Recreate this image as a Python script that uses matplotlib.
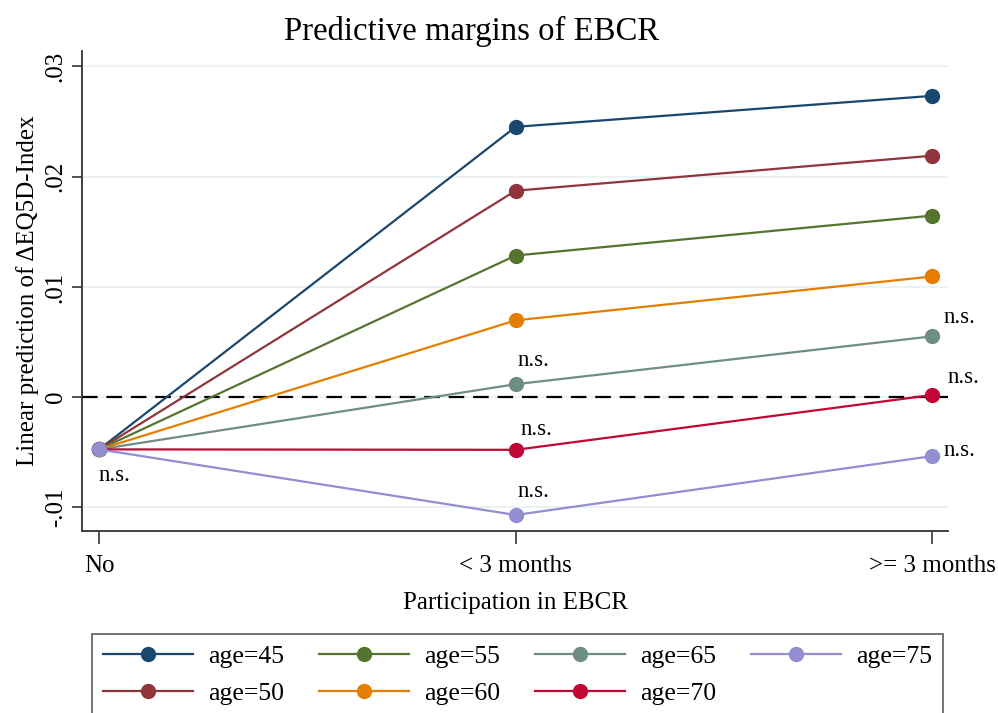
import matplotlib
matplotlib.use('Agg')
from matplotlib import pyplot as plt

plt.rcParams['font.family'] = ['Liberation Serif', 'DejaVu Serif']

# data
categories = ['No', '< 3 months', '>= 3 months']
ages = [45, 50, 55, 60, 65, 70, 75]
colors = ['#1a476f', '#90353b', '#55752f', '#e37e00', '#6e8e84', '#c10534', '#938dd2']
age45 = [-0.00473, 0.02452, 0.02733]
age50 = [-0.00473, 0.01873, 0.02190]
age55 = [-0.00473, 0.01285, 0.01647]
age60 = [-0.00473, 0.00697, 0.01095]
age65 = [-0.00473, 0.00118, 0.00552]
age70 = [-0.00473, -0.00477, 0.00020]
age75 = [-0.00473, -0.01068, -0.00534]
series = [age45, age50, age55, age60, age65, age70, age75]

yticks = [-0.01, 0, 0.01, 0.02, 0.03]
yticklabels = ['-.01', '0', '.01', '.02', '.03']

# (series index, category index, pixel offset) for the n.s. notes
ns_notes = [(6, 0, (15, -26)), (4, 1, (18, 24)), (5, 1, (21, 20)), (6, 1, (18, 23)),
            (4, 2, (27, 19)), (5, 2, (31, 18)), (6, 2, (27, 6))]

fig = plt.figure(figsize=(9.98, 7.13), dpi=100)
ax = fig.add_axes([0.0822, 0.2553, 0.8677, 0.6732])

x = list(range(len(categories)))
for a, vals, c in zip(ages, series, colors):
    ax.plot(x, vals, color=c, linewidth=1.6, marker='o', markersize=10, label='age=%d' % a)

ax.axhline(0, color='black', linewidth=1.6, dashes=(7, 4), zorder=1.5)

for si, ci, off in ns_notes:
    ax.annotate('n.s.', (x[ci], series[si][ci]), xytext=off, textcoords='offset pixels',
                ha='center', va='center', fontsize=16.5)

ax.set_xlim(-0.041, 2.038)
ax.set_ylim(-0.01213, 0.0314)
ax.set_xticks(x)
ax.set_xticklabels(categories, fontsize=18)
ax.set_yticks(yticks)
ax.set_yticklabels(yticklabels, fontsize=18, rotation=90, va='center')
ax.tick_params(axis='x', length=9, width=1.2, color='#333333', pad=8)
ax.tick_params(axis='y', length=7, width=1.2, color='#333333', pad=4)
ax.grid(axis='y', color='#eaf2f3', linewidth=1.5)
ax.set_axisbelow(True)
for s in ['top', 'right']:
    ax.spines[s].set_visible(False)
for s in ['left', 'bottom']:
    ax.spines[s].set_color('#333333')
    ax.spines[s].set_linewidth(1.3)

ax.set_title('Predictive margins of EBCR', fontsize=23.6, pad=8, x=0.45)
ax.set_xlabel('Participation in EBCR', fontsize=18, labelpad=11)
ax.set_ylabel('Linear prediction of ΔEQ5D-Index', fontsize=18, labelpad=4)

leg = fig.legend(loc='upper left', bbox_to_anchor=(0.092, 0.111),
                 ncol=4, fontsize=18.5, frameon=True, fancybox=False, handlelength=3.5,
                 handletextpad=0.58, borderpad=0.45, labelspacing=0.52, columnspacing=1.36,
                 borderaxespad=0)
leg.get_frame().set_edgecolor('#333333')
leg.get_frame().set_linewidth(1.2)

fig.savefig('out.png', dpi=100)
